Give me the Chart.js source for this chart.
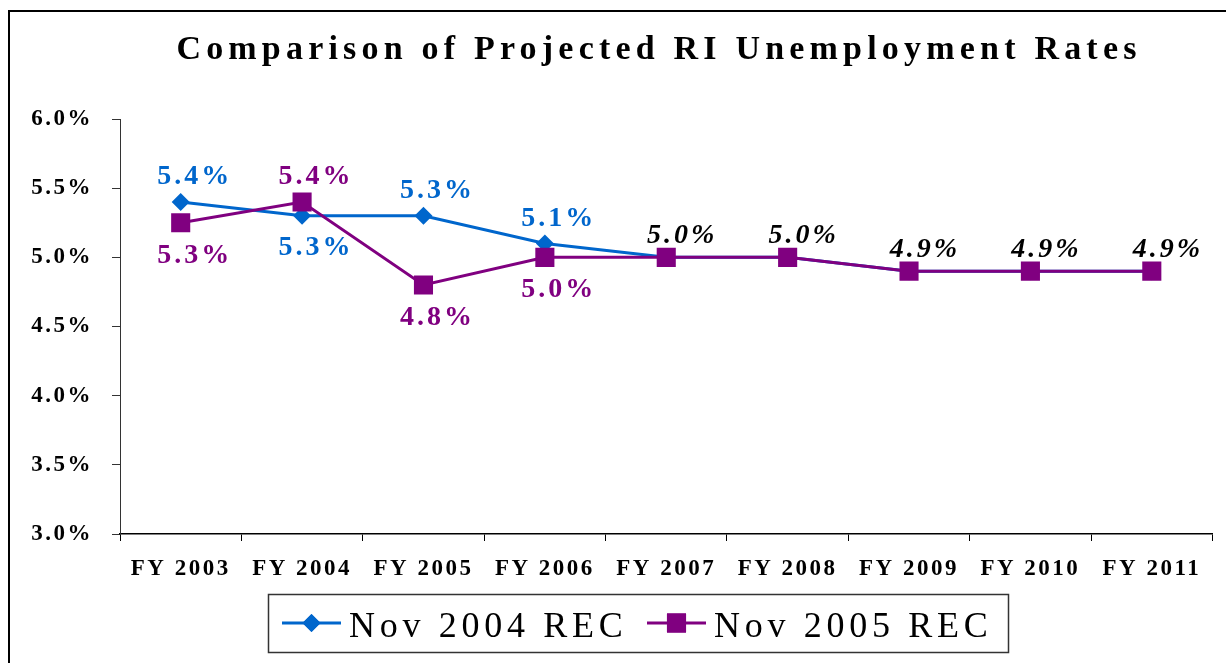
<!DOCTYPE html>
<html>
<head>
<meta charset="utf-8">
<script src="https://cdn.jsdelivr.net/npm/chart.js@4.4.1/dist/chart.umd.min.js"></script>
<style>
  html, body { margin: 0; padding: 0; background: #fff; }
  #wrap { width: 1226px; height: 663px; }
</style>
</head>
<body>
<div id="wrap"><canvas id="rateChart" width="1226" height="663"></canvas></div>
<script>
var serif = "'Liberation Serif', 'Times New Roman', serif";

var chartTitle = 'Comparison of Projected RI Unemployment Rates';
var years = ['FY 2003', 'FY 2004', 'FY 2005', 'FY 2006', 'FY 2007', 'FY 2008', 'FY 2009', 'FY 2010', 'FY 2011'];
var seriesNames = ['Nov 2004 REC', 'Nov 2005 REC'];
var nov2004 = [5.4, 5.3, 5.3, 5.1, 5.0, 5.0, 4.9, 4.9, 4.9];
var nov2005 = [5.25, 5.4, 4.8, 5.0, 5.0, 5.0, 4.9, 4.9, 4.9];
// where each series' value label goes: 'up' or 'down'
var nov2004Side = ['up', 'down', 'up', 'up'];
var nov2005Side = ['down', 'up', 'down', 'down'];
var yTicks = [3.0, 3.5, 4.0, 4.5, 5.0, 5.5, 6.0];

var blue = '#0066CC';
var purple = '#800080';

function pct(v) {
  return v.toFixed(1) + '%';
}

//labels on the points, title, legend and frame
var extras = {
  id: 'extras',
  beforeDraw: function(chart) {
    chart.ctx.letterSpacing = '2.5px';
  },
  afterDatasetsDraw: function(chart) {
    var ctx = chart.ctx;
    var m1 = chart.getDatasetMeta(0).data;
    var m2 = chart.getDatasetMeta(1).data;
    ctx.save();
    ctx.textAlign = 'center';
    ctx.textBaseline = 'alphabetic';
    ctx.letterSpacing = '3px';
    for (var i = 0; i < years.length; i++) {
      if (nov2004[i] === nov2005[i]) {
        ctx.font = 'italic bold 28px ' + serif;
        ctx.fillStyle = '#000';
        ctx.fillText(pct(nov2004[i]), m1[i].x + 16, m1[i].y - 14);
        continue;
      }
      ctx.font = 'bold 28px ' + serif;
      ctx.fillStyle = blue;
      var dy = nov2004Side[i] === 'up' ? -18 : 39;
      ctx.fillText(pct(nov2004[i]), m1[i].x + 14, m1[i].y + dy);
      ctx.fillStyle = purple;
      dy = nov2005Side[i] === 'up' ? -18 : 40;
      ctx.fillText(pct(nov2005[i]), m2[i].x + 14, m2[i].y + dy);
    }
    ctx.restore();
  },
  afterDraw: function(chart) {
    var ctx = chart.ctx;
    ctx.save();

    // frame
    ctx.strokeStyle = '#000';
    ctx.lineWidth = 2;
    ctx.beginPath();
    ctx.moveTo(9, 663);
    ctx.lineTo(9, 11);
    ctx.lineTo(1226, 11);
    ctx.stroke();

    // title
    ctx.fillStyle = '#000';
    ctx.font = 'bold 34px ' + serif;
    ctx.letterSpacing = '5.2px';
    ctx.textAlign = 'center';
    ctx.textBaseline = 'alphabetic';
    ctx.fillText(chartTitle, 659, 59);

    // legend
    ctx.letterSpacing = '0px';
    ctx.strokeStyle = '#333';
    ctx.lineWidth = 1.5;
    ctx.strokeRect(268.5, 594.5, 740, 58);
    var items = [
      { x: 282, color: blue, style: 'rectRot', r: 9 },
      { x: 647, color: purple, style: 'rect', r: 13.5 }
    ];
    for (var k = 0; k < items.length; k++) {
      var it = items[k];
      ctx.strokeStyle = it.color;
      ctx.lineWidth = 3;
      ctx.beginPath();
      ctx.moveTo(it.x, 623);
      ctx.lineTo(it.x + 59, 623);
      ctx.stroke();
      ctx.fillStyle = it.color;
      Chart.helpers.drawPoint(ctx, { pointStyle: it.style, radius: it.r, rotation: 0, borderWidth: 0 }, it.x + 29.5, 623);
      ctx.fill();
      ctx.fillStyle = '#000';
      ctx.font = '36px ' + serif;
      ctx.letterSpacing = '4.7px';
      ctx.textAlign = 'left';
      ctx.fillText(seriesNames[k], it.x + 67, 637);
      ctx.letterSpacing = '0px';
    }
    ctx.restore();
  }
};

var ctx = document.getElementById('rateChart');
var rateChart = new Chart(ctx, {
  type: 'line',
  data: {
    labels: years,
    datasets: [{
      label: seriesNames[0],
      data: nov2004,
      order: 1,
      borderColor: blue,
      backgroundColor: blue,
      borderWidth: 3,
      pointStyle: 'rectRot',
      pointRadius: 9,
      pointBorderWidth: 0,
      tension: 0
    }, {
      label: seriesNames[1],
      data: nov2005,
      order: 0,
      borderColor: purple,
      backgroundColor: purple,
      borderWidth: 3,
      pointStyle: 'rect',
      pointRadius: 13.5,
      pointBorderWidth: 0,
      tension: 0
    }]
  },
  options: {
    responsive: false,
    animation: false,
    events: [],
    layout: {
      padding: { left: 0, top: 119, right: 10, bottom: 79 }
    },
    plugins: {
      legend: { display: false },
      title: { display: false },
      tooltip: { enabled: false }
    },
    scales: {
      x: {
        offset: true,
        grid: {
          offset: true,
          drawOnChartArea: false,
          drawTicks: true,
          tickLength: 7,
          tickColor: '#000'
        },
        border: { color: '#000', width: 1.5 },
        ticks: {
          color: '#000',
          padding: 14,
          maxRotation: 0,
          autoSkip: false,
          font: { family: serif, size: 23, weight: 'bold' }
        },
        afterFit: function(scale) {
          scale.height = 50;
        }
      },
      y: {
        min: yTicks[0],
        max: yTicks[yTicks.length - 1],
        afterBuildTicks: function(scale) {
          scale.ticks = yTicks.map(function(v) { return { value: v }; });
        },
        grid: {
          drawOnChartArea: false,
          drawTicks: true,
          tickLength: 8,
          tickColor: '#333'
        },
        border: { color: '#333', width: 1 },
        ticks: {
          color: '#000',
          padding: 19,
          font: { family: serif, size: 23, weight: 'bold' },
          callback: function(v) { return pct(v); }
        },
        afterFit: function(scale) {
          scale.width = 120;
        }
      }
    }
  },
  plugins: [extras]
});
</script>
</body>
</html>
